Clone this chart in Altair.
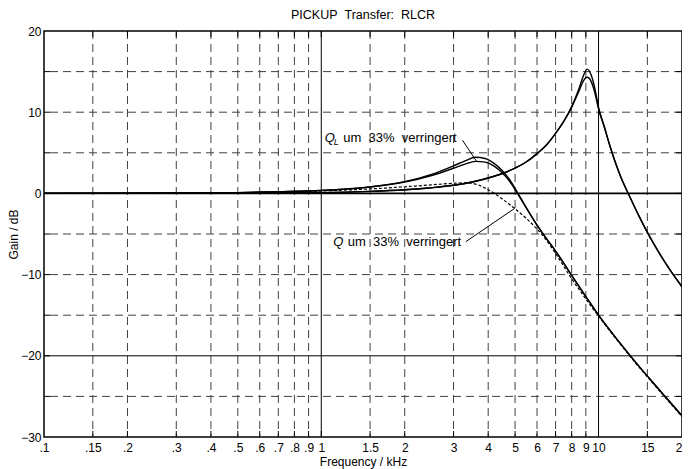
import altair as alt
import pandas as pd

FONT = "Liberation Sans"
W, H = 638, 406

# ---- data ----
A_F = [0.1, 0.2, 0.5, 1, 1.5, 2, 2.5, 3, 3.5, 4, 4.5, 5, 5.5, 6, 6.5, 7, 7.5, 8,
       8.5, 8.8, 9.1, 9.4, 9.7, 10, 10.5, 11, 12, 13, 14, 15, 16, 18, 20]
A1 = [0, 0, 0.03, 0.1, 0.25, 0.45, 0.7, 1.0, 1.4, 1.9, 2.45, 3.1, 3.9, 4.9, 6.0, 7.4, 8.9, 10.7,
      12.9, 14.4, 15.3, 14.6, 12.9, 10.6, 8.2, 5.8, 2.1, -0.5, -2.8, -4.8, -6.5, -9.3, -11.5]
A2 = [0, 0, 0.03, 0.1, 0.25, 0.45, 0.7, 1.0, 1.4, 1.9, 2.45, 3.1, 3.9, 4.9, 6.0, 7.4, 8.9, 10.6,
      12.6, 13.8, 14.3, 13.8, 12.4, 10.4, 8.1, 5.8, 2.1, -0.5, -2.8, -4.8, -6.5, -9.3, -11.5]

B_F = [0.1, 0.2, 0.5, 0.7, 1, 1.5, 2, 2.5, 3, 3.3, 3.6, 3.9, 4.2, 4.5, 4.8, 5.1, 5.5, 6,
       6.5, 7, 8, 9, 10, 12, 14, 16, 18, 20]
B1 = [0, 0.01, 0.1, 0.2, 0.35, 0.8, 1.45, 2.35, 3.4, 4.0, 4.45, 4.3, 3.7, 2.8, 1.6, 0.1, -1.8, -3.9,
      -5.6, -7.1, -10.1, -12.7, -15.0, -18.5, -21.3, -23.6, -25.6, -27.4]
B2 = [0, 0.01, 0.1, 0.2, 0.35, 0.78, 1.4, 2.2, 3.1, 3.6, 3.95, 3.85, 3.35, 2.5, 1.4, 0.0, -1.85, -3.9,
      -5.6, -7.1, -10.1, -12.7, -15.0, -18.5, -21.3, -23.6, -25.6, -27.4]

C_F = [0.1, 0.2, 0.5, 0.7, 1, 1.5, 2, 2.5, 3, 3.3, 3.6, 4, 4.5, 5, 5.5, 6, 6.5, 7, 8, 9, 10,
       12, 14, 16, 18, 20]
C1 = [0, 0.01, 0.08, 0.15, 0.3, 0.55, 0.82, 1.05, 1.25, 1.3, 1.15, 0.45, -0.7, -1.9, -3.1, -4.4,
      -5.8, -7.4, -10.5, -13.0, -15.1, -18.6, -21.4, -23.7, -25.7, -27.5]

X_TICKS = [0.1, 0.15, 0.2, 0.3, 0.4, 0.5, 0.6, 0.7, 0.8, 0.9, 1, 1.5, 2, 3, 4, 5, 6, 7, 8, 9, 10, 15, 20]
X_SOLID = [1, 10]
Y_LABELS = [-30, -20, -10, 0, 10, 20]
Y_GRID = [-25, -20, -15, -10, -5, 0, 5, 10, 15]
Y_SOLID = [-20]
Y_ZERO = [0]

# annotations (frequency kHz, gain dB)
SP = "\u00a0\u00a0"
ANN_TEXT = ["um" + SP + "33%" + SP + "verringert", "um" + SP + "33%" + SP + "verringert"]
ANN_F = [1.2, 1.245]
ANN_G = [6.3, -6.5]
Q_F = [1.03, 1.105]
Q_G = [6.3, -6.5]
L_F = [1.11]
L_G = [5.9]
LEAD_F1 = [3.23, 3.32]
LEAD_G1 = [6.55, -5.95]
LEAD_F2 = [3.64, 4.98]
LEAD_G2 = [3.9, -1.85]

xs = alt.Scale(type="log", domain=[0.1, 20], nice=False)
ys = alt.Scale(domain=[-30, 20], nice=False)

AX_X = alt.Axis(
    values=X_TICKS,
    labelExpr="datum.value < 1 ? slice(format(datum.value, '~g'), 1) : format(datum.value, '~g')",
    grid=False, ticks=False, domain=False, labelFont=FONT, labelFontSize=12,
    labelColor="black", labelPadding=5, labelFlush=False, labelOverlap=False,
    title="Frequency / kHz", titleFont=FONT, titleFontSize=12, titleFontWeight="normal",
    titleColor="black", titlePadding=3)
AX_Y = alt.Axis(
    values=Y_LABELS, grid=False, ticks=False, domain=False, labelFont=FONT,
    labelFontSize=12, labelColor="black", labelPadding=3, labelFlush=False,
    labelOverlap=False, title="Gain / dB", titleFont=FONT, titleFontSize=12,
    titleFontWeight="normal", titleColor="black", titlePadding=0)


def df(f, g):
    return pd.DataFrame({"f": f, "g": g})


def X():
    return alt.X("f:Q", scale=xs, axis=AX_X)


def Y():
    return alt.Y("g:Q", scale=ys, axis=AX_Y)


x_tick_df = pd.DataFrame({"f": [v for v in X_TICKS if v not in X_SOLID and v not in (0.1, 20)]})
x_solid_df = pd.DataFrame({"f": X_SOLID})
y_dash_df = pd.DataFrame({"g": [v for v in Y_GRID if v not in Y_SOLID and v not in Y_ZERO]})
y_solid_df = pd.DataFrame({"g": Y_SOLID})
y_zero_df = pd.DataFrame({"g": Y_ZERO})
x_all_ticks = pd.DataFrame({"f": X_TICKS[1:-1]})
y_all_ticks = pd.DataFrame({"g": Y_GRID})

GRID_COL = "#404040"
DASH = [8, 5]

axes_layer = alt.Chart(df(A_F, A1)).mark_point(opacity=0).encode(x=X(), y=Y())

vgrid = alt.Chart(x_tick_df).mark_rule(color=GRID_COL, strokeWidth=1, strokeDash=DASH).encode(x=X())
vsolid = alt.Chart(x_solid_df).mark_rule(color="black", strokeWidth=1).encode(x=X())
hgrid = alt.Chart(y_dash_df).mark_rule(color=GRID_COL, strokeWidth=1, strokeDash=DASH).encode(y=Y())
hsolid = alt.Chart(y_solid_df).mark_rule(color="black", strokeWidth=1).encode(y=Y())
hzero = alt.Chart(y_zero_df).mark_rule(color="black", strokeWidth=1.7).encode(y=Y())

tick_b = alt.Chart(x_all_ticks).mark_rule(color="black", strokeWidth=1).encode(
    x=X(), y=alt.value(H - 6), y2=alt.value(H))
tick_t = alt.Chart(x_all_ticks).mark_rule(color="black", strokeWidth=1).encode(
    x=X(), y=alt.value(0), y2=alt.value(6))
tick_l = alt.Chart(y_all_ticks).mark_rule(color="black", strokeWidth=1).encode(
    y=Y(), x=alt.value(0), x2=alt.value(6))
tick_r = alt.Chart(y_all_ticks).mark_rule(color="black", strokeWidth=1).encode(
    y=Y(), x=alt.value(W - 6), x2=alt.value(W))


def curve(f, g, width=1.4, dash=None):
    kw = dict(color="black", strokeWidth=width, interpolate="monotone")
    if dash:
        kw["strokeDash"] = dash
    return alt.Chart(df(f, g)).mark_line(**kw).encode(x=X(), y=Y())


curves = [
    curve(C_F, C1, 1.2, [3, 2]),
    curve(A_F, A1), curve(A_F, A2),
    curve(B_F, B1), curve(B_F, B2),
]

ann_df = pd.DataFrame({"f": ANN_F, "g": ANN_G, "t": ANN_TEXT})
q_df = pd.DataFrame({"f": Q_F, "g": Q_G, "t": ["Q", "Q"]})
l_df = pd.DataFrame({"f": L_F, "g": L_G, "t": ["L"]})
lead_df = pd.DataFrame({"f": LEAD_F1, "g": LEAD_G1, "f2": LEAD_F2, "g2": LEAD_G2})

txt = alt.Chart(ann_df).mark_text(font=FONT, fontSize=13, align="left", baseline="alphabetic",
                                  color="black").encode(x=X(), y=Y(), text="t:N")
qtxt = alt.Chart(q_df).mark_text(font=FONT, fontSize=13, fontStyle="italic", align="left",
                                 baseline="alphabetic", color="black").encode(x=X(), y=Y(), text="t:N")
ltxt = alt.Chart(l_df).mark_text(font=FONT, fontSize=9, fontStyle="italic", align="left",
                                 baseline="alphabetic", color="black").encode(x=X(), y=Y(), text="t:N")
lead = alt.Chart(lead_df).mark_rule(color="black", strokeWidth=1).encode(
    x=X(), y=Y(), x2="f2:Q", y2="g2:Q")

chart = alt.layer(
    axes_layer, vgrid, hgrid, vsolid, hsolid, hzero, tick_b, tick_t, tick_l, tick_r,
    *curves, txt, qtxt, ltxt, lead
).properties(
    width=W, height=H,
    background="white",
    title=alt.TitleParams("PICKUP\u00a0\u00a0Transfer:\u00a0\u00a0RLCR", font=FONT, fontSize=12.5,
                          fontWeight="normal", color="black", anchor="middle", offset=4),
    padding={"left": 36, "top": 23, "right": 0, "bottom": 34},
    autosize=alt.AutoSizeParams(type="none"),
).configure_view(stroke="black", strokeWidth=1.5)

chart.save("out.html", embed_options={"renderer": "svg", "actions": False})
